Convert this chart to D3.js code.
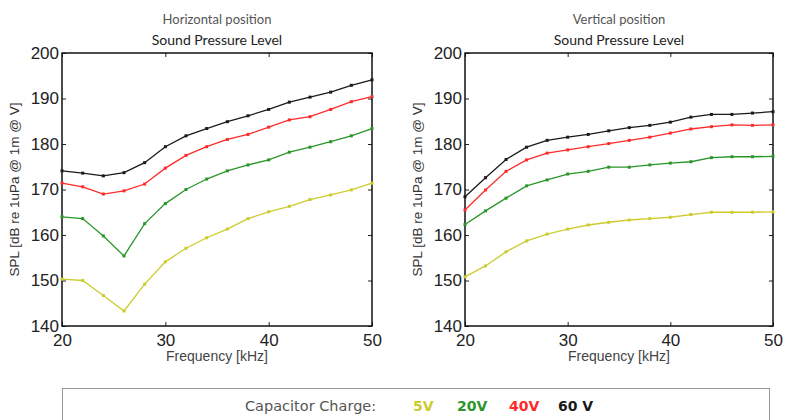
<!DOCTYPE html>
<html>
<head>
<meta charset="utf-8">
<script src="https://cdn.jsdelivr.net/npm/d3@7"></script>
<style>
  body { margin: 0; background: white; }
  svg { display: block; }
</style>
</head>
<body>
<div id="chart"></div>
<script>
// frequencies (kHz) shared by both panels
var freqs = [20, 22, 24, 26, 28, 30, 32, 34, 36, 38, 40, 42, 44, 46, 48, 50];

var charges = ["5V", "20V", "40V", "60 V"];
var colors = ["#cccc2e", "#2a962a", "#ff2a2a", "#1a1a1a"];

// horizontal position, SPL per charge
var horiz5 = [150.3, 150.0, 146.7, 143.3, 149.2, 154.1, 157.1, 159.4, 161.3, 163.6, 165.1, 166.3, 167.8, 168.8, 169.9, 171.4];
var horiz20 = [164.0, 163.6, 159.8, 155.4, 162.5, 166.9, 170.0, 172.3, 174.1, 175.4, 176.5, 178.2, 179.3, 180.5, 181.8, 183.4];
var horiz40 = [171.4, 170.6, 169.0, 169.7, 171.2, 174.7, 177.5, 179.4, 181.0, 182.1, 183.7, 185.3, 186.0, 187.6, 189.3, 190.4];
var horiz60 = [174.1, 173.6, 173.0, 173.7, 175.9, 179.4, 181.8, 183.4, 184.9, 186.2, 187.6, 189.2, 190.3, 191.4, 192.9, 194.1];

// vertical position
var vert5 = [150.8, 153.2, 156.3, 158.7, 160.2, 161.3, 162.2, 162.8, 163.3, 163.6, 163.9, 164.5, 165.0, 165.0, 165.0, 165.1];
var vert20 = [162.3, 165.3, 168.1, 170.8, 172.1, 173.4, 174.0, 174.9, 174.9, 175.4, 175.8, 176.1, 177.0, 177.2, 177.2, 177.3];
var vert40 = [165.5, 169.9, 174.0, 176.5, 178.0, 178.7, 179.4, 180.1, 180.8, 181.5, 182.4, 183.3, 183.8, 184.2, 184.1, 184.2];
var vert60 = [168.4, 172.6, 176.6, 179.3, 180.8, 181.5, 182.1, 182.9, 183.6, 184.1, 184.8, 185.9, 186.5, 186.5, 186.8, 187.1];

var xTicks = [20, 30, 40, 50];
var yTicks = [140, 150, 160, 170, 180, 190, 200];

var W = 785, H = 420;
var svg = d3.select("#chart").append("svg")
    .attr("width", W)
    .attr("height", H);

var panels = [
  {title: "Horizontal position", left: 62, right: 372, series: [horiz5, horiz20, horiz40, horiz60]},
  {title: "Vertical position", left: 465, right: 773, series: [vert5, vert20, vert40, vert60]}
];
var plotTop = 53, plotBottom = 326;

panels.forEach(function(p) {
  var x = d3.scaleLinear().domain([20, 50]).range([p.left, p.right]);
  var y = d3.scaleLinear().domain([140, 200]).range([plotBottom, plotTop]);
  var cx = (p.left + p.right) / 2;

  var g = svg.append("g");

  // titles
  g.append("text")
    .attr("x", cx).attr("y", 24)
    .attr("text-anchor", "middle")
    .style("font-family", "Lato, 'Open Sans', sans-serif")
    .style("font-size", "13px")
    .style("fill", "#555")
    .text(p.title);
  g.append("text")
    .attr("x", cx).attr("y", 45)
    .attr("text-anchor", "middle")
    .style("font-family", "Lato, 'Open Sans', sans-serif")
    .style("font-size", "14px")
    .style("fill", "#222")
    .text("Sound Pressure Level");

  // axes with inward ticks, matplotlib style
  g.append("g")
    .attr("transform", "translate(0," + plotBottom + ")")
    .call(d3.axisBottom(x).tickValues(xTicks).tickSize(-4).tickPadding(8));
  g.append("g")
    .attr("transform", "translate(0," + plotTop + ")")
    .call(d3.axisTop(x).tickValues(xTicks).tickSize(-4).tickFormat(""));
  g.append("g")
    .attr("transform", "translate(" + p.left + ",0)")
    .call(d3.axisLeft(y).tickValues(yTicks).tickSize(-4).tickPadding(3));
  g.append("g")
    .attr("transform", "translate(" + p.right + ",0)")
    .call(d3.axisRight(y).tickValues(yTicks).tickSize(-4).tickFormat(""));

  g.selectAll(".domain").remove();
  g.selectAll(".tick line").attr("stroke", "#222");
  g.selectAll(".tick text")
    .style("font-family", "'Liberation Sans', Arial, sans-serif")
    .style("font-size", "17px")
    .style("fill", "#222");

  // frame
  g.append("rect")
    .attr("x", p.left).attr("y", plotTop)
    .attr("width", p.right - p.left).attr("height", plotBottom - plotTop)
    .attr("fill", "none")
    .attr("stroke", "#111")
    .attr("stroke-width", 1.5);

  // axis labels
  g.append("text")
    .attr("x", cx).attr("y", 361)
    .attr("text-anchor", "middle")
    .style("font-family", "'Liberation Sans', Arial, sans-serif")
    .style("font-size", "14px")
    .style("fill", "#444")
    .text("Frequency [kHz]");
  g.append("text")
    .attr("transform", "translate(" + (p.left - 43) + "," + ((plotTop + plotBottom) / 2) + ") rotate(-90)")
    .attr("text-anchor", "middle")
    .style("font-family", "'Liberation Sans', Arial, sans-serif")
    .style("font-size", "13.5px")
    .style("fill", "#333")
    .text("SPL [dB re 1uPa @ 1m @ V]");

  var line = d3.line()
    .x(function(d, i) { return x(freqs[i]); })
    .y(function(d) { return y(d); });

  p.series.forEach(function(s, k) {
    g.append("path")
      .datum(s)
      .attr("d", line)
      .attr("fill", "none")
      .attr("stroke", colors[k])
      .attr("stroke-width", 1.3);
    g.selectAll(".pt" + k)
      .data(s)
      .enter().append("rect")
      .attr("x", function(d, i) { return x(freqs[i]) - 1.5; })
      .attr("y", function(d) { return y(d) - 1.5; })
      .attr("width", 3).attr("height", 3)
      .attr("fill", colors[k]);
  });
});

// legend box
svg.append("rect")
  .attr("x", 62.5).attr("y", 388.5)
  .attr("width", 707).attr("height", 40)
  .attr("fill", "white")
  .attr("stroke", "#999")
  .attr("stroke-width", 1);

svg.append("text")
  .attr("x", 245).attr("y", 411)
  .style("font-family", "'DejaVu Sans', sans-serif")
  .style("font-size", "14.5px")
  .style("fill", "#555")
  .text("Capacitor Charge:");

var legendX = [413, 457, 509, 558];
charges.forEach(function(c, k) {
  svg.append("text")
    .attr("x", legendX[k]).attr("y", 411)
    .style("font-family", "'DejaVu Sans', sans-serif")
    .style("font-size", "14px")
    .style("font-weight", "bold")
    .style("fill", colors[k])
    .text(c);
});
</script>
</body>
</html>
